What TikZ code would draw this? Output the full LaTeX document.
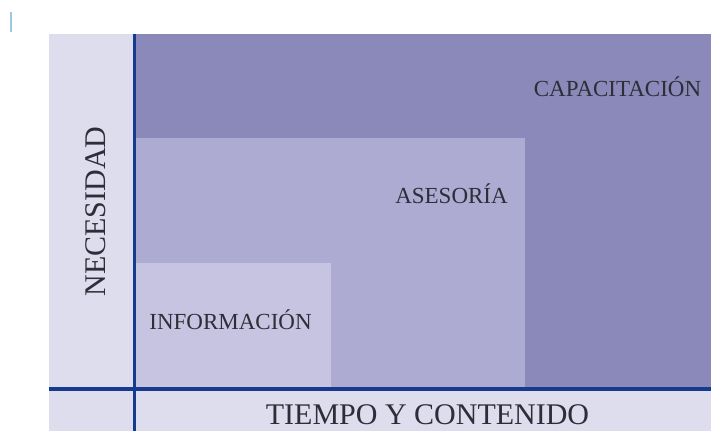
\documentclass[tikz,border=0pt]{standalone}
\usepackage{fontspec}
\setmainfont{Liberation Serif}
\definecolor{panel}{HTML}{DDDDED}
\definecolor{dark}{HTML}{8B89B9}
\definecolor{mid}{HTML}{ADABD2}
\definecolor{light}{HTML}{C6C4E0}
\definecolor{navy}{HTML}{163A8E}
\definecolor{tick}{HTML}{9CC8E0}
\definecolor{txt}{HTML}{2E2D38}
\tikzset{
  lbl/.style={inner sep=0pt, anchor=base, text=txt, font=\fontsize{23}{23}\selectfont},
  axlbl/.style={inner sep=0pt, anchor=base, text=txt, font=\fontsize{30}{30}\selectfont},
  axis/.style={draw=navy, line width=3.5pt}
}
\begin{document}
\begin{tikzpicture}[x=1pt,y=-1pt]
\useasboundingbox (0,0) rectangle (711,431);
% small tick mark
\draw[tick, line width=2pt] (10.5,12) -- (10.5,32);
% panel
\fill[panel] (49,34) rectangle (711,431);
% regions
\fill[dark] (136,34) rectangle (711,387.5);
\fill[mid] (136,138) rectangle (525,387.5);
\fill[light] (136,263) rectangle (330.5,387.5);
% axes
\coordinate (vtop) at (134.5,34);
\coordinate (vbot) at (134.5,431);
\coordinate (hl) at (49,389);
\coordinate (hr) at (711,389);
\draw[axis] (vtop) -- (vbot);
\draw[axis] (hl) -- (hr);
% labels
\node[lbl] (cap) at (617.5,96) {CAPACITACIÓN};
\node[lbl] (ase) at (451.5,203) {ASESORÍA};
\node[lbl] (inf) at (230.5,329) {INFORMACIÓN};
\node[axlbl] (tie) at (427.5,424.5) {TIEMPO Y CONTENIDO};
\node[axlbl, rotate=90] (nec) at (105,211.5) {NECESIDAD};
\end{tikzpicture}
\end{document}
